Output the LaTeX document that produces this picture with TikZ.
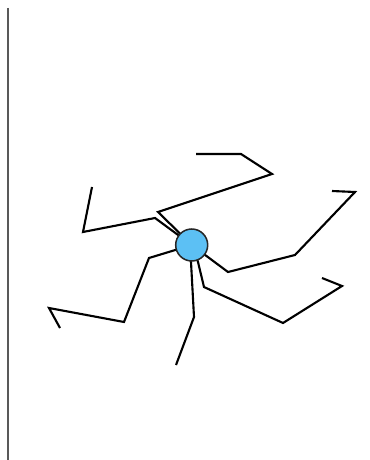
\documentclass[tikz,border=0pt]{standalone}
\usetikzlibrary{positioning}
\definecolor{hubblue}{RGB}{92,192,244}

\begin{document}
\begin{tikzpicture}[
    x=0.03cm, y=-0.03cm,
    hub/.style={circle, draw=black!85, fill=hubblue, line width=1.3pt, minimum size=0.96cm, inner sep=0pt},
    arm/.style={draw=black, line width=1.8pt, line join=miter, line cap=butt},
    wall/.style={draw=black!65, line width=1.2pt}
]

\useasboundingbox (0,0) rectangle (369,460);

% Wall
\coordinate (w1) at (8,8);
\coordinate (w2) at (8,460);
\draw[wall] (w1) -- (w2);

% Hub centre
\coordinate (c) at (191.7,245);

% Arm points
\coordinate (a1) at (158,212);
\coordinate (a2) at (272,174);
\coordinate (a3) at (241,154);
\coordinate (a4) at (196,154);

\coordinate (b1) at (155,218);
\coordinate (b2) at (83,232);
\coordinate (b3) at (92,187);

\coordinate (r1) at (228,272);
\coordinate (r2) at (295,255);
\coordinate (r3) at (355,192);
\coordinate (r4) at (332,191);

\coordinate (d0) at (198,262);
\coordinate (d1) at (204,287);
\coordinate (d2) at (283,323);
\coordinate (d3) at (342,286);
\coordinate (d4) at (322,278);

\coordinate (s0) at (191,262);
\coordinate (s1) at (194,317);
\coordinate (s2) at (176,365);

\coordinate (l1) at (149,258);
\coordinate (l2) at (124,322);
\coordinate (l3) at (49,308);
\coordinate (l4) at (60,328);

% Arms
\draw[arm] (c) -- (a1) -- (a2) -- (a3) -- (a4);
\draw[arm] (c) -- (b1) -- (b2) -- (b3);
\draw[arm] (c) -- (r1) -- (r2) -- (r3) -- (r4);
\draw[arm] (c) -- (d0) -- (d1) -- (d2) -- (d3) -- (d4);
\draw[arm] (c) -- (s0) -- (s1) -- (s2);
\draw[arm] (c) -- (l1) -- (l2) -- (l3) -- (l4);

% Hub
\node[hub] (hub) at (c) {};

\end{tikzpicture}
\end{document}
